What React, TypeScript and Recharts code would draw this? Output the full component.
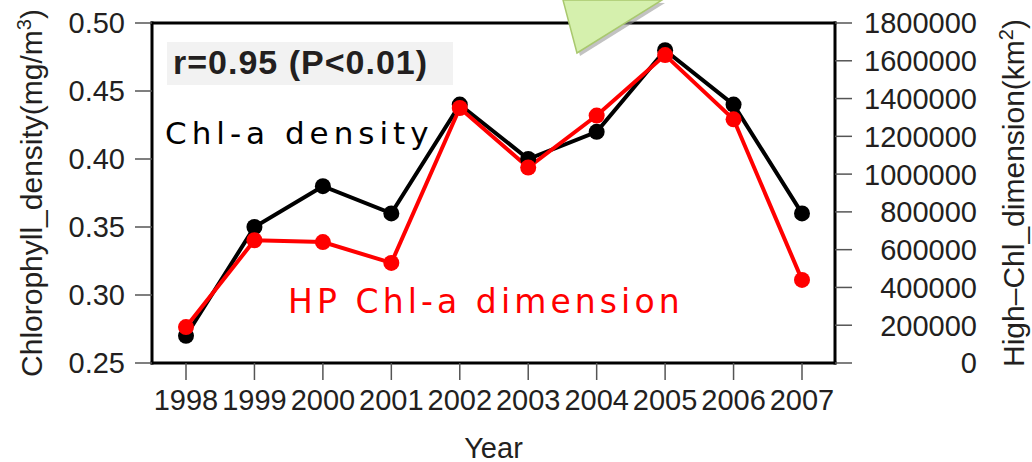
import React from 'react';
import { LineChart, Line, XAxis, YAxis } from 'recharts';

const years = ['1998', '1999', '2000', '2001', '2002', '2003', '2004', '2005', '2006', '2007'];
const chlDensity = [0.27, 0.35, 0.38, 0.36, 0.44, 0.40, 0.42, 0.48, 0.44, 0.36];
const hpDimension = [190000, 650000, 640000, 530000, 1350000, 1035000, 1310000, 1630000, 1290000, 440000];
const leftTicks = [0.25, 0.3, 0.35, 0.4, 0.45, 0.5];
const rightTicks = [0, 200000, 400000, 600000, 800000, 1000000, 1200000, 1400000, 1600000, 1800000];

const data = years.map((year, i) => ({ year, density: chlDensity[i], dimension: hpDimension[i] }));

const FONT = '"Liberation Sans", Arial, sans-serif';
const INK = '#231f20';
const tickFont = { fill: INK, fontSize: 29, fontFamily: FONT };
const frame = { stroke: '#000', strokeWidth: 3, strokeLinecap: 'square' as const };
const tickLine = { stroke: '#555', strokeWidth: 1.5 };

const RightTick = (props: any) => {
  const { x, y, payload } = props;
  return (
    <text x={x + 125} y={y} dy="0.36em" textAnchor="end" {...tickFont}>
      {payload.value}
    </text>
  );
};

const LeftTitle = (props: any) => {
  const vb = props.viewBox;
  const cy = vb.y + vb.height / 2;
  return (
    <text transform={`translate(${vb.x + 31},${cy}) rotate(-90)`} textAnchor="middle" dy="0.36em"
      fill={INK} fontSize={30} fontFamily={FONT}>
      Chlorophyll_density(mg/m<tspan dy={-11} fontSize={20}>3</tspan><tspan dy={11}>)</tspan>
    </text>
  );
};

const RightTitle = (props: any) => {
  const vb = props.viewBox;
  const cy = vb.y + vb.height / 2;
  return (
    <text transform={`translate(${vb.x + 178},${cy}) rotate(-90)`} textAnchor="middle" dy="0.36em"
      fill={INK} fontSize={30} fontFamily={FONT}>
      High–Chl_dimension(km<tspan dy={-11} fontSize={20}>2</tspan><tspan dy={11}>)</tspan>
    </text>
  );
};

const YearTitle = (props: any) => {
  const vb = props.viewBox;
  return (
    <text x={vb.x + vb.width / 2} y={vb.y + 85} dy="0.36em" textAnchor="middle"
      fill={INK} fontSize={29} fontFamily={FONT}>
      Year
    </text>
  );
};

export default function App() {
  return (
    <div style={{ position: 'absolute', left: 0, top: 0, width: 1032, height: 462, background: '#fff' }}>
      <LineChart width={1032} height={462} data={data} margin={{ top: 0, right: 0, bottom: 0, left: 0 }}>
        <XAxis dataKey="year" xAxisId="top" orientation="top" height={23} padding={{ left: 34, right: 33 }}
          tick={false} tickSize={17} axisLine={frame} tickLine={tickLine} interval={0} />
        <XAxis dataKey="year" height={99} padding={{ left: 34, right: 33 }} tick={tickFont} tickSize={17}
          tickMargin={9} axisLine={frame} tickLine={tickLine} interval={0} label={{ content: YearTitle }} />
        <YAxis yAxisId="left" width={152} domain={[0.25, 0.5]} ticks={leftTicks} tickSize={17} tickMargin={10}
          tickFormatter={(v: number) => v.toFixed(2)} tick={tickFont} axisLine={frame} tickLine={tickLine}
          label={{ content: LeftTitle }} />
        <YAxis yAxisId="right" orientation="right" width={197} domain={[0, 1800000]} ticks={rightTicks}
          tickSize={17} tickMargin={0} tick={<RightTick />} axisLine={frame} tickLine={tickLine}
          label={{ content: RightTitle }} />
        <Line yAxisId="left" dataKey="density" stroke="#000" strokeWidth={4} isAnimationActive={false}
          dot={{ r: 8, fill: '#000', stroke: '#000', strokeWidth: 0 }} />
        <Line yAxisId="right" dataKey="dimension" stroke="#ff0000" strokeWidth={4} isAnimationActive={false}
          dot={{ r: 8, fill: '#ff0000', stroke: '#ff0000', strokeWidth: 0 }} />
      </LineChart>
      <svg width={1032} height={462} style={{ position: 'absolute', left: 0, top: 0, pointerEvents: 'none' }}>
        <rect x={167} y={42} width={286} height={43} fill="#f2f2f2" />
        <text x={173} y={74} fontSize={34} fontWeight="bold" letterSpacing={1} fill={INK} fontFamily={FONT}>
          r=0.95 (P&lt;0.01)
        </text>
        <text x={165} y={144} fontSize={31} letterSpacing={5} fill="#000" fontFamily='"DejaVu Sans", sans-serif'>
          Chl-a density
        </text>
        <text x={288} y={313} fontSize={33} letterSpacing={4.1} fill="#ff0000" fontFamily='"DejaVu Sans", sans-serif'>
          HP Chl-a dimension
        </text>
        <polygon points="566,0 580,56 665,3" fill="#999" opacity={0.6} />
        <polygon points="563,0 577,53 662,0" fill="#d5f0ad" stroke="#a9c86e" strokeWidth={1.5} />
      </svg>
    </div>
  );
}
